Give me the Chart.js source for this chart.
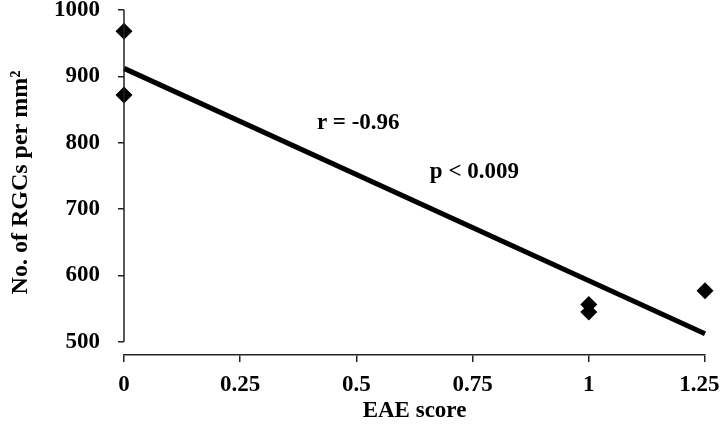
<!DOCTYPE html>
<html>
<head>
<meta charset="utf-8">
<script src="https://cdn.jsdelivr.net/npm/chart.js@4/dist/chart.umd.min.js"></script>
<style>
  html, body { margin: 0; padding: 0; background: #fff; }
  #wrap { width: 720px; height: 435px; }
</style>
</head>
<body>
<div id="wrap"><canvas id="c" width="720" height="435"></canvas></div>
<script>
// ---- data ----
const eaeScores = [0, 0, 1, 1, 1.25];
const rgcCounts = [968, 872, 556, 545, 577];
const fitX = [0, 1.25];
const fitY = [912, 512];
const xTickValues = [0, 0.25, 0.5, 0.75, 1, 1.25];
const xTickLabels = ['0', '0.25', '0.5', '0.75', '1', '1.25\u00a0\u00a0'];
const yTickValues = [500, 600, 700, 800, 900, 1000];
const annotations = [
  { text: 'r = -0.96', x: 0.415, y: 830 },
  { text: 'p < 0.009', x: 0.658, y: 755 }
];

const FONT = '"Liberation Serif", "Times New Roman", serif';
const INK = '#000';
const AXIS = '#222';

const scatterPts = eaeScores.map((x, i) => ({ x: x, y: rgcCounts[i] }));
const fitPts = fitX.map((x, i) => ({ x: x, y: fitY[i] }));

const extras = {
  id: 'extras',
  afterDatasetsDraw(chart) {
    const { ctx, scales } = chart;
    const xs = scales.x, ys = scales.y;
    ctx.save();
    // y axis line (from 500 to 1000 only)
    ctx.strokeStyle = AXIS;
    ctx.lineWidth = 1.5;
    ctx.beginPath();
    const ax = xs.getPixelForValue(0);
    ctx.moveTo(ax, ys.getPixelForValue(yTickValues[0]));
    ctx.lineTo(ax, ys.getPixelForValue(yTickValues[yTickValues.length - 1]));
    ctx.stroke();
    // annotations
    ctx.fillStyle = INK;
    ctx.font = 'bold 23px ' + FONT;
    ctx.textAlign = 'left';
    ctx.textBaseline = 'middle';
    annotations.forEach(a => {
      ctx.fillText(a.text, xs.getPixelForValue(a.x), ys.getPixelForValue(a.y));
    });
    ctx.restore();
  }
};

new Chart(document.getElementById('c'), {
  type: 'scatter',
  data: {
    datasets: [
      {
        type: 'line',
        data: fitPts,
        borderColor: INK,
        borderWidth: 5,
        pointRadius: 0,
        fill: false,
        clip: false,
        order: 2
      },
      {
        data: scatterPts,
        pointStyle: 'rectRot',
        pointRadius: 8.5,
        pointHoverRadius: 8.5,
        backgroundColor: INK,
        borderColor: INK,
        borderWidth: 0,
        clip: false,
        order: 1
      }
    ]
  },
  options: {
    responsive: false,
    animation: false,
    events: [],
    layout: { padding: { top: 10, right: 15, bottom: 0, left: 0 } },
    plugins: { legend: { display: false }, tooltip: { enabled: false } },
    scales: {
      x: {
        type: 'linear',
        min: 0,
        max: 1.25,
        afterBuildTicks: s => { s.ticks = xTickValues.map(v => ({ value: v })); },
        afterFit: s => { s.height = 80; s.paddingLeft = 0; s.paddingRight = 0; },
        grid: { display: true, drawOnChartArea: false, drawTicks: true, tickLength: 7, color: AXIS, lineWidth: 1.5 },
        border: { display: true, color: AXIS, width: 1.5 },
        ticks: {
          padding: 9,
          color: INK,
          font: { family: FONT, size: 23, weight: 'bold' },
          maxRotation: 0,
          callback: (v) => { const i = xTickValues.indexOf(v); return i >= 0 ? xTickLabels[i] : ''; }
        },
        title: {
          display: true,
          text: 'EAE score',
          color: INK,
          font: { family: FONT, size: 23, weight: 'bold' },
          padding: 10
        }
      },
      y: {
        type: 'linear',
        min: 480,
        max: 1000,
        afterBuildTicks: s => { s.ticks = yTickValues.map(v => ({ value: v })); },
        afterFit: s => { s.width = 124; s.paddingTop = 0; s.paddingBottom = 0; },
        grid: { display: true, drawOnChartArea: false, drawTicks: true, tickLength: 6, color: AXIS, lineWidth: 1.5 },
        border: { display: false },
        ticks: {
          padding: 18,
          color: INK,
          font: { family: FONT, size: 23, weight: 'bold' },
          callback: (v) => String(v)
        },
        title: {
          display: true,
          text: 'No. of RGCs per mm²',
          color: INK,
          font: { family: FONT, size: 24, weight: 'bold' },
          padding: 6
        }
      }
    }
  },
  plugins: [extras]
});
</script>
</body>
</html>
